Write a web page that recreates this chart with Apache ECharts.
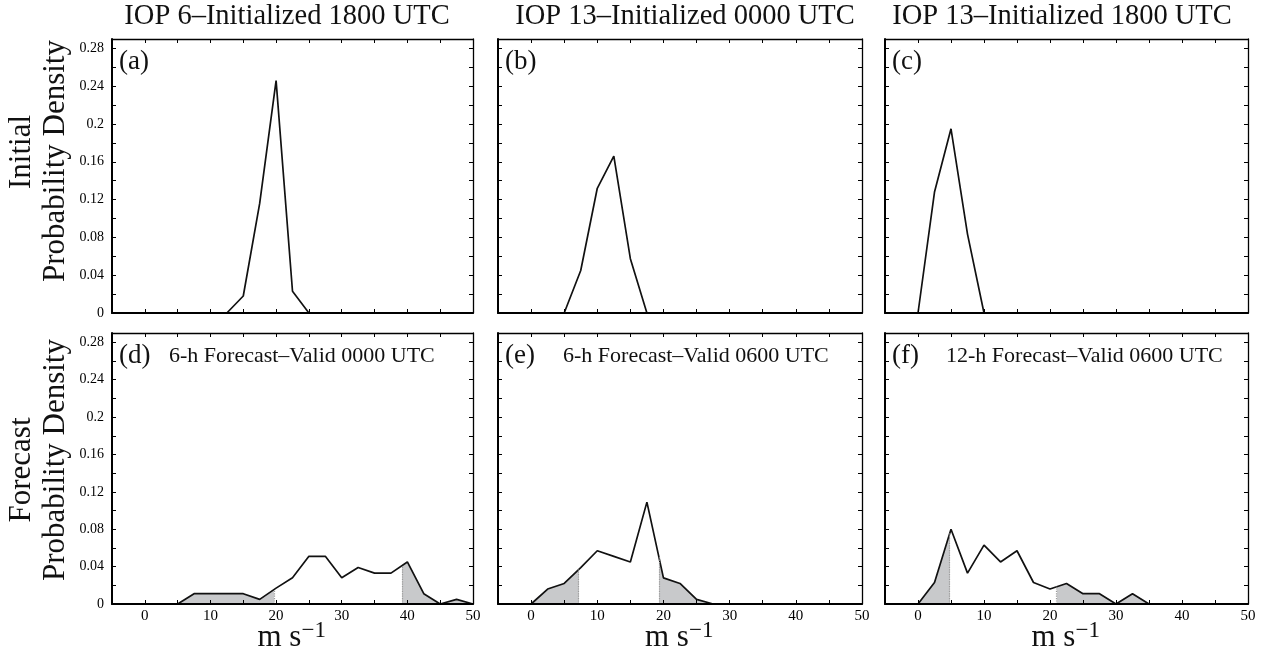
<!DOCTYPE html>
<html>
<head>
<meta charset="utf-8">
<script src="https://cdn.jsdelivr.net/npm/echarts@6/dist/echarts.min.js"></script>
<style>
  html, body { margin: 0; padding: 0; background: #fff; }
  #chart { width: 1265px; height: 655px; }
</style>
</head>
<body>
<div id="chart"></div>
<script>
// Wind-speed bins (m s^-1) and probability densities for each panel
const speedA = [12.5, 15, 17.5, 20, 22.5, 25];
const densityA = [0, 0.018, 0.116, 0.246, 0.023, 0];

const speedB = [5, 7.5, 10, 12.5, 15, 17.5];
const densityB = [0, 0.045, 0.132, 0.166, 0.0575, 0];

const speedC = [0, 2.5, 5, 7.5, 10];
const densityC = [0, 0.128, 0.195, 0.0835, 0];

const speedForecast = [0, 2.5, 5, 7.5, 10, 12.5, 15, 17.5, 20, 22.5, 25, 27.5, 30, 32.5, 35, 37.5, 40, 42.5, 45, 47.5, 50];
const densityD = [0, 0, 0, 0.011, 0.011, 0.011, 0.011, 0.005, 0.017, 0.028, 0.051, 0.051, 0.028, 0.039, 0.033, 0.033, 0.045, 0.011, 0, 0.005, 0];
const densityE = [0, 0.016, 0.022, 0.039, 0.057, 0.051, 0.045, 0.109, 0.028, 0.022, 0.005, 0, 0, 0, 0, 0, 0, 0, 0, 0, 0];
const densityF = [0, 0.023, 0.080, 0.033, 0.063, 0.045, 0.057, 0.023, 0.016, 0.022, 0.011, 0.011, 0, 0.011, 0, 0, 0, 0, 0, 0, 0];

// Lower / upper tail thresholds (m s^-1) shaded in the forecast panels
const tailsD = [19.7, 39.2];
const tailsE = [7.2, 19.3];
const tailsF = [4.8, 21.0];

const columnTitles = ['IOP 6\u2013Initialized 1800 UTC', 'IOP 13\u2013Initialized 0000 UTC', 'IOP 13\u2013Initialized 1800 UTC'];
const panelLetters = ['(a)', '(b)', '(c)', '(d)', '(e)', '(f)'];
const forecastTitles = ['6-h Forecast\u2013Valid 0000 UTC', '6-h Forecast\u2013Valid 0600 UTC', '12-h Forecast\u2013Valid 0600 UTC'];
const xTicks = { min: -5, max: 50, interval: 5, labelStep: 10 };
const yTicks = { min: 0, max: 0.29, interval: 0.02, labelStep: 0.04 };

const SERIF = '"Liberation Serif", "Times New Roman", serif';
const FILL = '#c8c9cb';

// panel geometry (pixels)
const colLeft = [112, 498, 885];
const colWidth = [361, 364, 363];
const rowTop = [39, 333];
const rowHeight = [274, 271];

const panels = [
  { row: 0, col: 0, x: speedA, y: densityA },
  { row: 0, col: 1, x: speedB, y: densityB },
  { row: 0, col: 2, x: speedC, y: densityC },
  { row: 1, col: 0, x: speedForecast, y: densityD, tails: tailsD },
  { row: 1, col: 1, x: speedForecast, y: densityE, tails: tailsE },
  { row: 1, col: 2, x: speedForecast, y: densityF, tails: tailsF }
];

// height of the piecewise-linear curve at speed s
function curveAt(xs, ys, s) {
  for (let i = 0; i < xs.length - 1; i++) {
    if (s >= xs[i] && s <= xs[i + 1]) {
      const t = (s - xs[i]) / (xs[i + 1] - xs[i]);
      return ys[i] + t * (ys[i + 1] - ys[i]);
    }
  }
  return 0;
}

const grid = [], xAxis = [], yAxis = [], series = [], visualMap = [], graphic = [];

const thick = 2, thin = 1.3;

panels.forEach((p, i) => {
  grid.push({ left: colLeft[p.col], top: rowTop[p.row], width: colWidth[p.col], height: rowHeight[p.row], containLabel: false });
  const showX = p.row === 1;
  const showY = p.col === 0;
  const xBase = {
    gridIndex: i, type: 'value', min: xTicks.min, max: xTicks.max, interval: xTicks.interval,
    splitLine: { show: false }, z: 5,
    axisTick: { show: true, inside: true, length: 4, lineStyle: { color: '#000', width: 1 } }
  };
  // bottom axis
  xAxis.push(Object.assign({}, xBase, {
    position: 'bottom',
    axisLine: { show: true, onZero: false, lineStyle: { color: '#000', width: thick } },
    axisLabel: {
      show: showX, color: '#000', fontFamily: SERIF, fontSize: 15, margin: 5,
      formatter: v => (v >= 0 && Math.round(v) % xTicks.labelStep === 0) ? String(Math.round(v)) : ''
    }
  }));
  // top frame
  xAxis.push(Object.assign({}, xBase, {
    position: 'top',
    axisLine: { show: true, onZero: false, lineStyle: { color: '#000', width: thin } },
    axisLabel: { show: false }
  }));
  const yBase = {
    gridIndex: i, type: 'value', min: yTicks.min, max: yTicks.max, interval: yTicks.interval,
    splitLine: { show: false }, z: 5,
    axisTick: { show: true, inside: true, length: 4, lineStyle: { color: '#000', width: 1 } }
  };
  yAxis.push(Object.assign({}, yBase, {
    position: 'left',
    axisLine: { show: true, onZero: false, lineStyle: { color: '#000', width: thick } },
    axisLabel: {
      show: showY, color: '#000', fontFamily: SERIF, fontSize: 14, margin: 8,
      formatter: v => {
        const k = Math.round(v * 100);
        return (k % 4 === 0 && k <= 28) ? String(k / 100) : '';
      }
    }
  }));
  yAxis.push(Object.assign({}, yBase, {
    position: 'right',
    axisLine: { show: true, onZero: false, lineStyle: { color: '#000', width: thin } },
    axisLabel: { show: false }
  }));

  const data = p.x.map((s, k) => [s, p.y[k]]);
  const s = {
    type: 'line', xAxisIndex: 2 * i, yAxisIndex: 2 * i, data,
    symbol: 'none', silent: true, animation: false, z: 3,
    lineStyle: { color: '#111', width: 1.7 }
  };
  if (p.tails) {
    // shade both tails of the distribution
    s.areaStyle = { opacity: 1 };
    visualMap.push({
      type: 'piecewise', show: false, dimension: 0, seriesIndex: series.length,
      pieces: [
        { lt: p.tails[0], color: FILL },
        { gte: p.tails[0], lt: p.tails[1], color: 'rgba(255,255,255,0)' },
        { gte: p.tails[1], color: FILL }
      ]
    });
    s.markLine = {
      silent: true, symbol: 'none', animation: false,
      label: { show: false },
      lineStyle: { color: '#9c9c9c', type: 'dotted', width: 1.2 },
      data: p.tails.map(t => [{ coord: [t, 0] }, { coord: [t, curveAt(p.x, p.y, t)] }])
    };
  }
  series.push(s);

  // panel letter and forecast caption
  const left = colLeft[p.col];
  const top = rowTop[p.row];
  graphic.push({
    type: 'text', left: left + 7, top: top + 9, silent: true,
    style: { text: panelLetters[i], font: '27px ' + SERIF, fill: '#111' }
  });
  if (p.row === 1) {
    const capOffset = [57, 65, 61][p.col];
    graphic.push({
      type: 'text', left: left + capOffset, top: top + 12, silent: true,
      style: { text: forecastTitles[p.col], font: '22px ' + SERIF, fill: '#111' }
    });
  }
});

// column titles
const titleCenters = [287, 685, 1062];
columnTitles.forEach((t, c) => {
  graphic.push({
    type: 'text', x: titleCenters[c], y: 31, silent: true,
    style: { text: t, font: '28.5px ' + SERIF, fill: '#111', textAlign: 'center', textVerticalAlign: 'bottom' }
  });
});

// x-axis unit labels under bottom panels
colLeft.forEach((l, c) => {
  const cx = l + colWidth[c] / 2;
  graphic.push({
    type: 'text', x: cx - 35, y: 653, silent: true,
    style: { text: 'm s', font: '31px ' + SERIF, fill: '#111', textAlign: 'left', textVerticalAlign: 'bottom' }
  });
  graphic.push({
    type: 'text', x: cx + 9, y: 642, silent: true,
    style: { text: '\u22121', font: '23px ' + SERIF, fill: '#111', textAlign: 'left', textVerticalAlign: 'bottom' }
  });
});

// row labels
const rowLabels = [
  { text: 'Initial', x: 22, y: 152 },
  { text: 'Probability Density', x: 56, y: 161 },
  { text: 'Forecast', x: 22, y: 470 },
  { text: 'Probability Density', x: 56, y: 460 }
];
rowLabels.forEach(r => {
  graphic.push({
    type: 'text', x: r.x, y: r.y, rotation: Math.PI / 2, silent: true,
    style: { text: r.text, font: '31px ' + SERIF, fill: '#111', textAlign: 'center', textVerticalAlign: 'middle' }
  });
});

const chart = echarts.init(document.getElementById('chart'), null, { renderer: 'canvas' });
chart.setOption({
  backgroundColor: '#fff',
  animation: false,
  grid, xAxis, yAxis, series, visualMap, graphic
});
</script>
</body>
</html>
